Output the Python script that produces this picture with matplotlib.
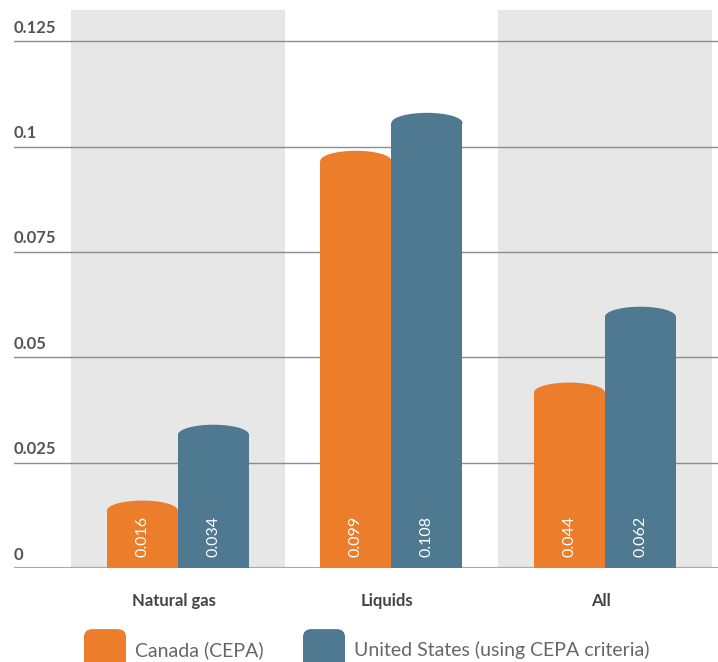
import numpy as np
import matplotlib.pyplot as plt
from matplotlib.patches import Ellipse, FancyBboxPatch

plt.rcParams['font.family'] = ['Lato', 'DejaVu Sans']

categories = ["Natural gas", "Liquids", "All"]
canada = [0.016, 0.099, 0.044]
usa = [0.034, 0.108, 0.062]
series_names = ["Canada (CEPA)", "United States (using CEPA criteria)"]
yticks = [0, 0.025, 0.05, 0.075, 0.1, 0.125]
ytick_labels = ["0", "0.025", "0.05", "0.075", "0.1", "0.125"]

orange = "#ec7d2b"
blue = "#4f7891"
band = "#e7e7e7"

fig = plt.figure(figsize=(7.18, 6.62), dpi=100)
ax = fig.add_axes([14 / 718, 94 / 662, 1 - 14 / 718, (568 - 10) / 662])
xmin, xmax = -0.768, 2.53
ax.set_xlim(xmin, xmax)
ax.set_ylim(0, 0.1324)
ax.axis("off")

x = np.arange(len(categories))
w = 0.333
cap = 0.0024

# gray bands behind every other category
for i in x:
    if i % 2 == 0:
        ax.axvspan(i - 0.5, i + 0.5, color=band, zorder=0, lw=0)

# gridlines and labels
for t, lab in zip(yticks, ytick_labels):
    ax.axhline(t, color="#aaaaaa" if t == 0 else "#8c8c8c", lw=1.6 if t == 0 else 1.0, zorder=1)
    ax.text(xmin, t + 0.0013, lab, fontsize=12, fontweight="bold", color="#555555",
            ha="left", va="bottom")

# cylinder-ish bars
for vals, off, col in [(canada, -w / 2, orange), (usa, w / 2, blue)]:
    ax.bar(x + off, np.array(vals) - cap, width=w, color=col, zorder=3, lw=0)
    for xi, v in zip(x + off, vals):
        ax.add_patch(Ellipse((xi, v - cap), w, 2 * cap, color=col, zorder=3, lw=0))
        ax.text(xi, 0.0026, f"{v:.3f}", rotation=90, color="white",
                fontsize=11.5, fontweight="normal", ha="center", va="bottom", zorder=4)

for xi, c in zip(x, categories):
    ax.text(xi - 0.02, -0.0078, c, fontsize=12, fontweight="bold", color="#444444",
            ha="center", va="center")

# legend at the bottom
for x0, name, col in [(84, series_names[0], orange), (303, series_names[1], blue)]:
    p = FancyBboxPatch((x0 / 718, -0.05), 42 / 718, (662 - 636 + 40) / 662,
                       boxstyle="round,pad=0,rounding_size=0.012", transform=fig.transFigure,
                       color=col, lw=0, mutation_aspect=1)
    fig.patches.append(p)
    fig.text((x0 + 51) / 718, (662 - 650) / 662, name, fontsize=14, fontweight="normal",
             color="#666666", ha="left", va="center")

fig.savefig("out.png", dpi=100)
